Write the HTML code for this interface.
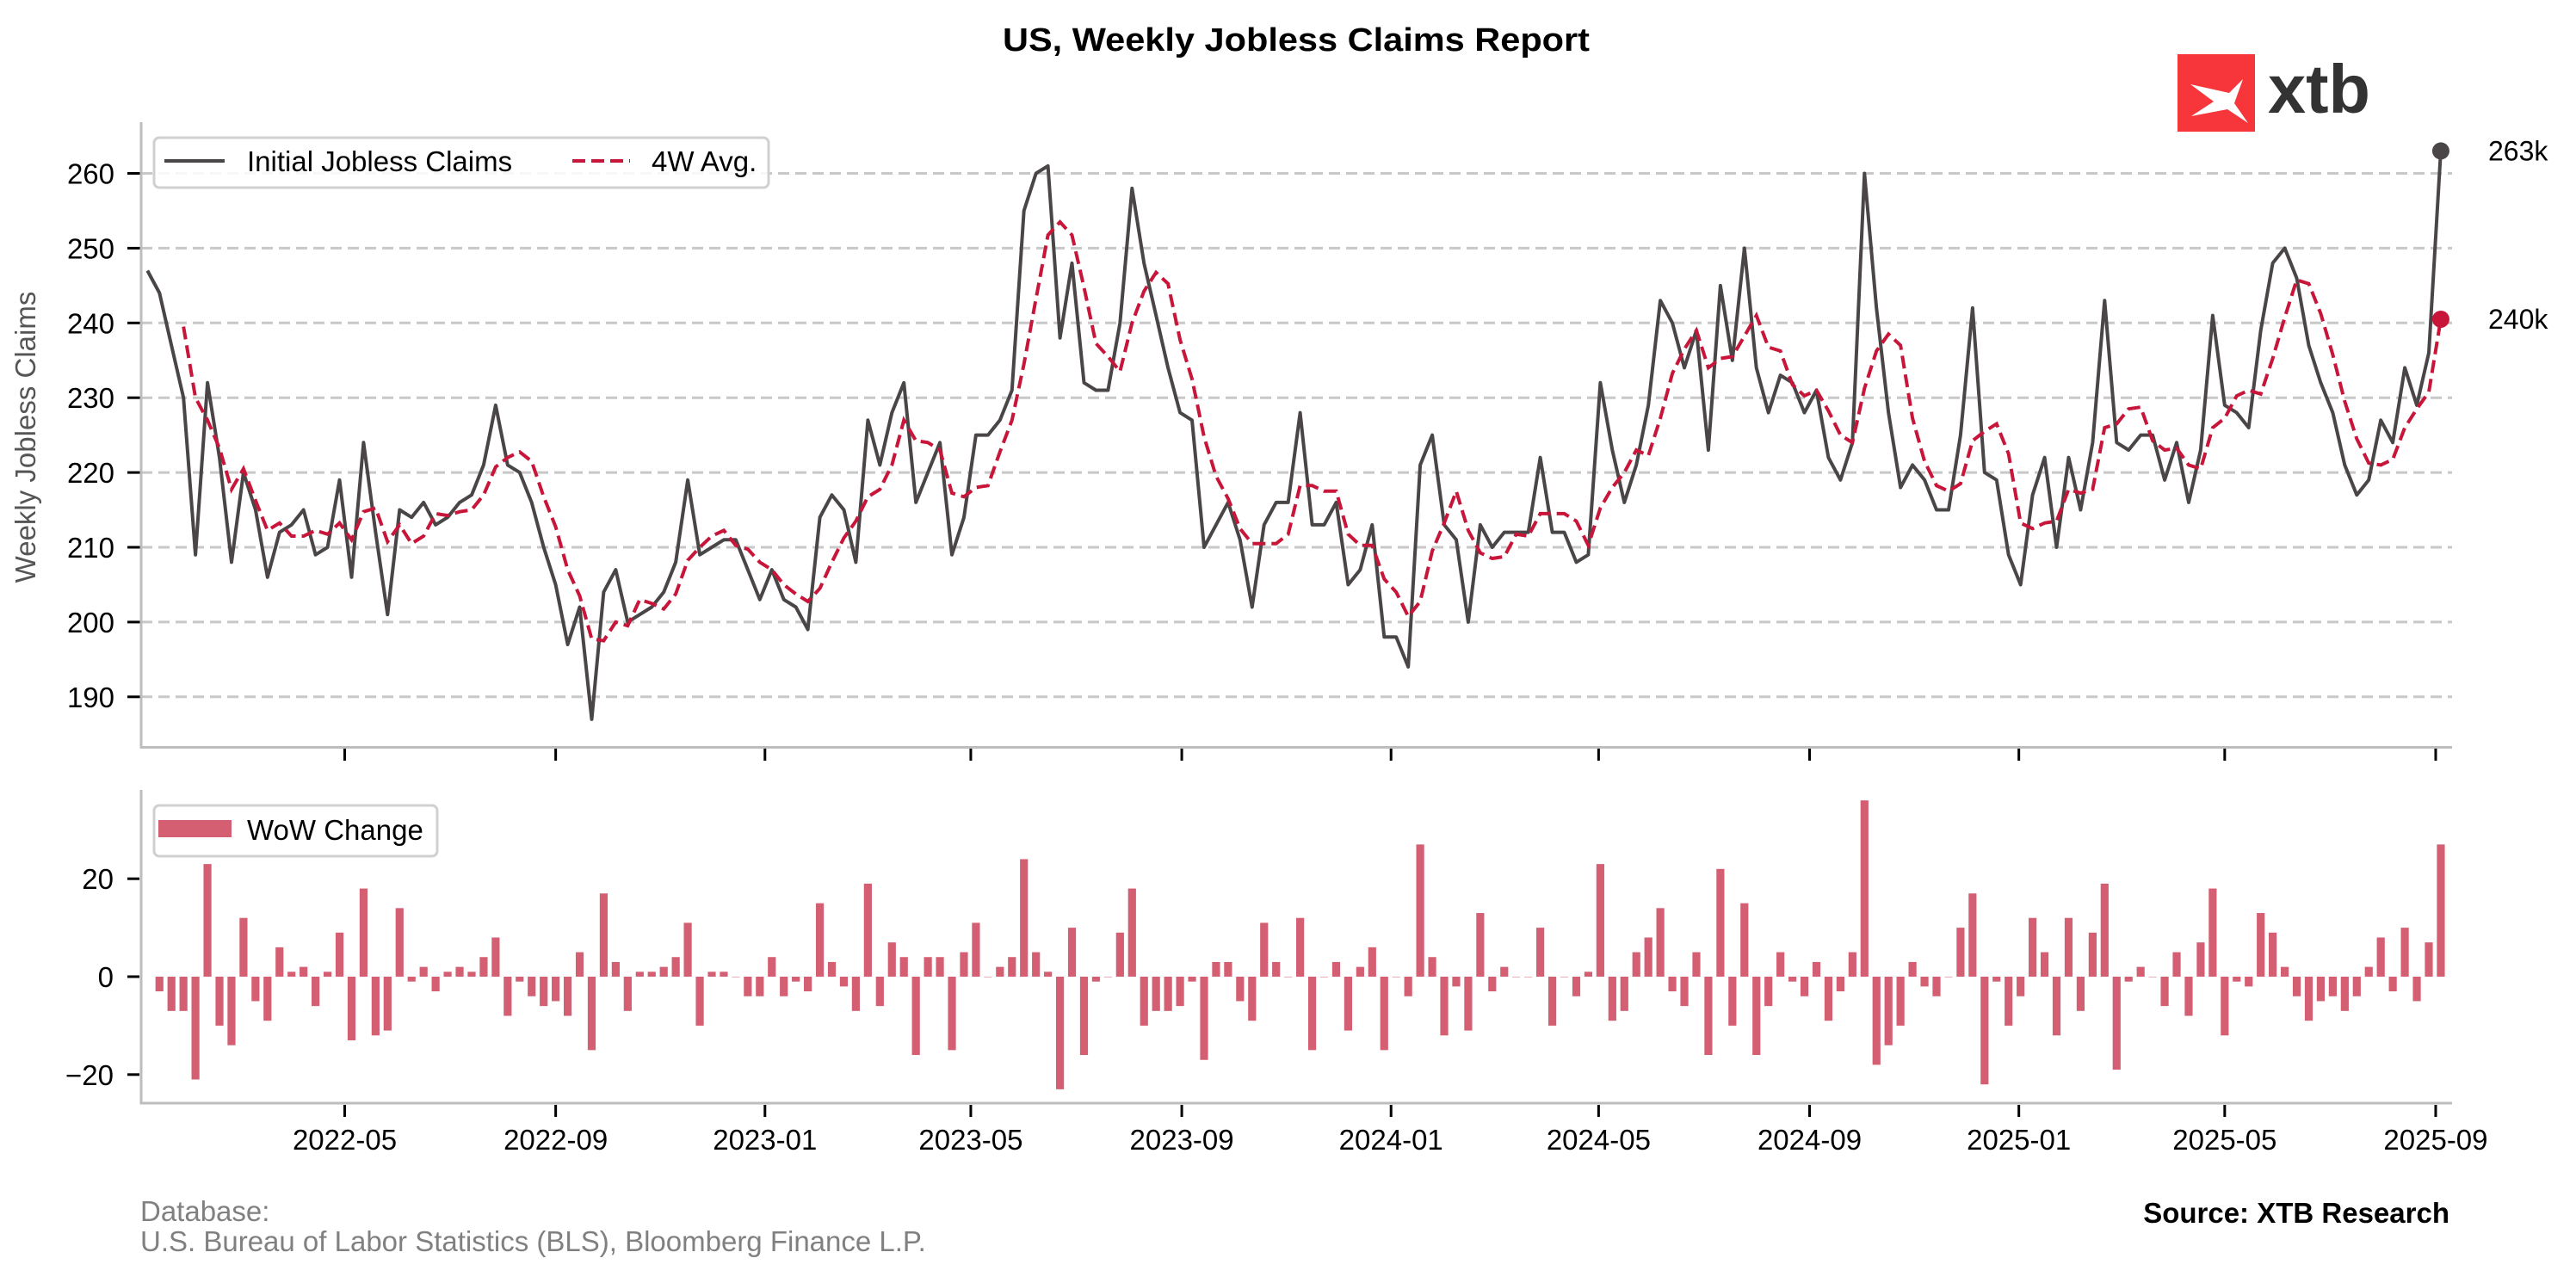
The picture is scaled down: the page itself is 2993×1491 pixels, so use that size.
<!DOCTYPE html>
<html><head><meta charset="utf-8"><style>
html,body{margin:0;padding:0;background:#fff;}
svg{display:block;font-family:"Liberation Sans",Arial,sans-serif;}
</style></head><body>
<svg id="chart" width="2993" height="1491" viewBox="0 0 2993 1491" xmlns="http://www.w3.org/2000/svg">
<rect width="2993" height="1491" fill="#fff"/>
<text x="1506" y="59" text-anchor="middle" font-size="38" font-weight="bold" textLength="682" lengthAdjust="spacingAndGlyphs" fill="#000">US, Weekly Jobless Claims Report</text>
<g>
<rect x="2530" y="63" width="90" height="90" fill="#f7363b"/>
<path d="M2545 98 L2590 108 L2606 92 L2596 120 L2612 143 L2588 127 L2546 135 L2572 118 Z" fill="#fff"/>
<text x="2635" y="131" font-size="80" font-weight="bold" fill="#333" textLength="119" lengthAdjust="spacingAndGlyphs">xtb</text>
</g>
<g id="topg"></g>
<g id="botg"></g>
<text x="163" y="1419" font-size="33" fill="#808080">Database:</text>
<text x="163" y="1454" font-size="33" fill="#808080">U.S. Bureau of Labor Statistics (BLS), Bloomberg Finance L.P.</text>
<text x="2846" y="1421" text-anchor="end" font-size="33" font-weight="bold" fill="#000">Source: XTB Research</text>
</svg>
<script>
const startDate = "2022-01-06";
const claims = [247,244,237,230,209,232,222,208,220,215,206,212,213,215,209,210,219,206,224,212,201,215,214,216,213,214,216,217,221,229,221,220,216,210,205,197,202,187,204,207,200,201,202,204,208,219,209,210,211,211,207,203,207,203,202,199,214,217,215,208,
227,221,228,232,216,220,224,209,214,225,225,227,231,255,260,261,238,248,232,231,231,240,258,248,241,234,228,227,210,213,216,211,202,213,216,216,228,213,213,216,205,207,213,198,198,194,221,225,213,211,200,213,210,212,212,212,222,212,212,208,209,232,223,216,221,229,243,240,234,239,223,
245,235,250,234,228,233,232,228,231,222,219,224,260,242,228,218,221,219,215,215,225,242,220,219,209,205,217,222,210,222,215,224,243,224,223,225,225,219,224,216,223,241,229,228,226,239,248,250,246,237,232,228,221,217,219,227,224,234,229,236,263];
const xTickLabels = ["2022-05","2022-09","2023-01","2023-05","2023-09","2024-01","2024-05","2024-09","2025-01","2025-05","2025-09"];
const topTicks = [190,200,210,220,230,240,250,260];
const bottomTicks = [-20,0,20];

const NS="http://www.w3.org/2000/svg";
function mk(parent,tag,attrs){const e=document.createElementNS(NS,tag);for(const k in attrs)e.setAttribute(k,attrs[k]);parent.appendChild(e);return e;}
function roundHalfEven(x){const f=Math.floor(x);const r=x-f;if(Math.abs(r-0.5)<1e-9)return f%2===0?f:f+1;return Math.round(x);}
const DAY=86400000;
const refT=Date.UTC(2022,4,1);
function xDate(t){return 400.5+(t-refT)/DAY*1.993;}
const t0=Date.parse(startDate+"T00:00:00Z");
function xIdx(i){return xDate(t0+i*7*DAY);}
function yTop(v){return 201.5+(260-v)*8.69;}
function yBot(v){return 1135-v*5.69;}
function tickDate(s){const p=s.split("-");return Date.UTC(+p[0],+p[1]-1,1);}

const wow=claims.map((v,i)=>i===0?null:v-claims[i-1]);
const avg4=claims.map((v,i)=>i<3?null:(claims[i]+claims[i-1]+claims[i-2]+claims[i-3])/4);

const gTop=document.getElementById('topg');
const gBot=document.getElementById('botg');
topTicks.forEach(v=>{
  const g=mk(gTop,'line',{x1:164,x2:2849,y1:yTop(v),y2:yTop(v),stroke:'#c8c8c8','stroke-width':3,'stroke-dasharray':'13 7'});
  
  
  const tk=mk(gTop,'line',{x1:148,x2:163,y1:yTop(v),y2:yTop(v),stroke:'#000','stroke-width':3});
  
  
  const t=mk(gTop,'text',{x:133,y:yTop(v)+12,'text-anchor':'end','font-size':33,fill:'#000'});
  t.textContent=v;
  
  
});
let s=mk(gTop,'path',{d:'M164 142 L164 868.5 L2849 868.5',fill:'none',stroke:'#bdbdbd','stroke-width':3});


xTickLabels.forEach(l=>{
  const x=xDate(tickDate(l));
  const a=mk(gTop,'line',{x1:x,x2:x,y1:870,y2:884,stroke:'#000','stroke-width':3});
  
  
  const b=mk(gBot,'line',{x1:x,x2:x,y1:1284,y2:1298,stroke:'#000','stroke-width':3});
  
  
  const t=mk(gBot,'text',{x:x,y:1336,'text-anchor':'middle','font-size':33,fill:'#000'});
  t.textContent=l;
  
  
});
const mt=mk(gTop,'text',{transform:'translate(41,508) rotate(-90)','text-anchor':'middle','font-size':33,fill:'#555'});
mt.textContent='Weekly Jobless Claims';


let d='';claims.forEach((v,i)=>{d+=(i?'L':'M')+xIdx(i).toFixed(1)+' '+yTop(v).toFixed(1);});
const cl=mk(gTop,'path',{d:d,fill:'none',stroke:'#4a4647','stroke-width':4,'stroke-linejoin':'round'});


d='';let first=true;avg4.forEach((v,i)=>{if(v===null)return;d+=(first?'M':'L')+xIdx(i).toFixed(1)+' '+yTop(v).toFixed(1);first=false;});
const al=mk(gTop,'path',{d:d,fill:'none',stroke:'#c8163a','stroke-width':4,'stroke-dasharray':'15 7'});


const n=claims.length-1;
const d1=mk(gTop,'circle',{cx:xIdx(n),cy:yTop(claims[n]),r:10,fill:'#4a4647'});


const d2=mk(gTop,'circle',{cx:xIdx(n),cy:yTop(avg4[n]),r:10,fill:'#c8163a'});


const l1=mk(gTop,'text',{x:2891,y:yTop(claims[n])+11,'font-size':32,fill:'#000'});
l1.textContent=roundHalfEven(claims[n])+'k';


const l2=mk(gTop,'text',{x:2891,y:yTop(avg4[n])+11,'font-size':32,fill:'#000'});
l2.textContent=roundHalfEven(avg4[n])+'k';


const lg=mk(gTop,'g',{});


mk(lg,'rect',{x:179,y:160,width:714,height:58,rx:6,fill:'#fff','fill-opacity':0.85,stroke:'#d0d0d0','stroke-width':3});
const le1=mk(lg,'line',{x1:191,x2:261,y1:187,y2:187,stroke:'#4a4647','stroke-width':4});


let tt=mk(lg,'text',{x:287,y:199,'font-size':33,fill:'#000'});tt.textContent='Initial Jobless Claims';


const le2=mk(lg,'line',{x1:665,x2:732,y1:187,y2:187,stroke:'#c8163a','stroke-width':4,'stroke-dasharray':'15 7'});


tt=mk(lg,'text',{x:757,y:199,'font-size':33,fill:'#000'});tt.textContent='4W Avg.';



bottomTicks.forEach(v=>{
  const tk=mk(gBot,'line',{x1:148,x2:162,y1:yBot(v),y2:yBot(v),stroke:'#000','stroke-width':3});
  
  
  const t=mk(gBot,'text',{x:132,y:yBot(v)+12,'text-anchor':'end','font-size':33,fill:'#000'});
  t.textContent=v<0?'\u2212'+Math.abs(v):v;
  
  
});
wow.forEach((v,i)=>{
  if(v===null)return;
  const y0=yBot(0),y1=yBot(v);
  const r=mk(gBot,'rect',{x:xIdx(i)-4.6,y:Math.min(y0,y1),width:9.2,height:Math.max(Math.abs(y1-y0),0.5),fill:'#d45f73'});
  
  
});
s=mk(gBot,'path',{d:'M164 918 L164 1282 L2849 1282',fill:'none',stroke:'#bdbdbd','stroke-width':3});


const lg2=mk(gBot,'g',{});


mk(lg2,'rect',{x:179,y:936,width:329,height:59,rx:6,fill:'#fff','fill-opacity':0.85,stroke:'#d0d0d0','stroke-width':3});
const lp=mk(lg2,'rect',{x:184,y:953,width:85,height:20,fill:'#d45f73'});


tt=mk(lg2,'text',{x:287,y:976,'font-size':33,fill:'#000'});tt.textContent='WoW Change';


</script>
</body></html>
